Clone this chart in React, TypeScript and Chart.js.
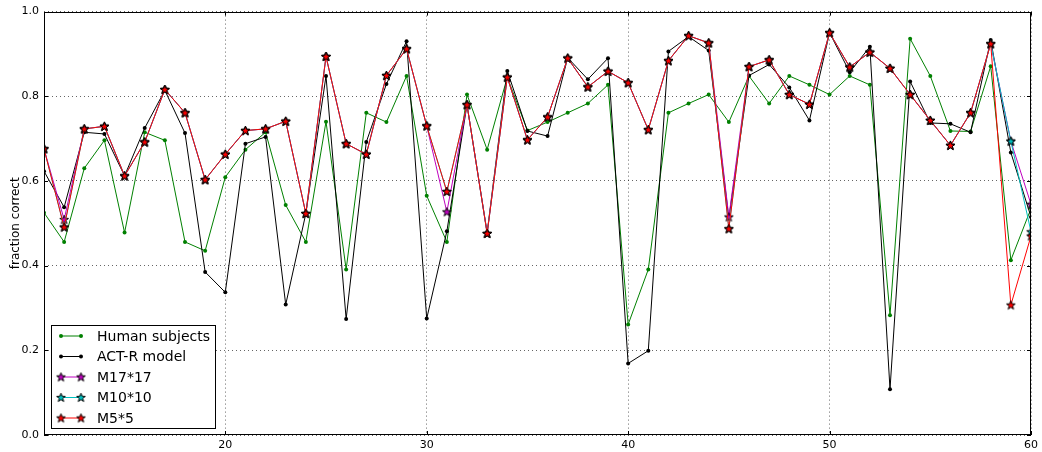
import React, { useEffect, useRef } from 'react';
import { Chart, registerables } from 'chart.js';

Chart.register(...registerables);

const problems = [11, 12, 13, 14, 15, 16, 17, 18, 19, 20, 21, 22, 23, 24, 25, 26, 27, 28, 29, 30, 31, 32, 33, 34, 35, 36, 37, 38, 39, 40, 41, 42, 43, 44, 45, 46, 47, 48, 49, 50, 51, 52, 53, 54, 55, 56, 57, 58, 59, 60];

const humanSubjects = [0.525, 0.456, 0.630, 0.696, 0.478, 0.715, 0.696, 0.456, 0.435, 0.609,
  0.674, 0.715, 0.543, 0.456, 0.740, 0.391, 0.761, 0.739, 0.848, 0.565,
  0.456, 0.804, 0.674, 0.845, 0.719, 0.739, 0.761, 0.783, 0.827, 0.261,
  0.391, 0.761, 0.783, 0.804, 0.739, 0.848, 0.783, 0.848, 0.827, 0.804,
  0.848, 0.827, 0.283, 0.936, 0.848, 0.718, 0.717, 0.871, 0.413, 0.535];

const actrModel = [0.623, 0.538, 0.715, 0.711, 0.612, 0.725, 0.814, 0.713, 0.385, 0.337,
  0.688, 0.704, 0.308, 0.523, 0.848, 0.274, 0.692, 0.829, 0.930, 0.275,
  0.481, 0.780, 0.478, 0.860, 0.718, 0.706, 0.891, 0.840, 0.890, 0.169,
  0.199, 0.906, 0.941, 0.908, 0.511, 0.849, 0.875, 0.821, 0.743, 0.950,
  0.857, 0.917, 0.108, 0.835, 0.737, 0.735, 0.715, 0.933, 0.667, 0.515];

const m17 = [0.676, 0.509, 0.723, 0.729, 0.612, 0.692, 0.816, 0.761, 0.603, 0.663,
  0.719, 0.723, 0.741, 0.523, 0.894, 0.688, 0.663, 0.849, 0.912, 0.730,
  0.527, 0.780, 0.476, 0.845, 0.697, 0.751, 0.890, 0.822, 0.859, 0.832,
  0.721, 0.884, 0.943, 0.926, 0.515, 0.870, 0.886, 0.804, 0.781, 0.950,
  0.869, 0.904, 0.866, 0.804, 0.743, 0.684, 0.761, 0.924, 0.694, 0.545];

const m10 = [0.676, 0.491, 0.723, 0.729, 0.612, 0.692, 0.816, 0.761, 0.603, 0.663,
  0.719, 0.723, 0.741, 0.523, 0.894, 0.688, 0.663, 0.849, 0.912, 0.730,
  0.575, 0.780, 0.476, 0.845, 0.697, 0.751, 0.890, 0.822, 0.859, 0.832,
  0.721, 0.884, 0.943, 0.926, 0.487, 0.870, 0.886, 0.804, 0.781, 0.950,
  0.869, 0.904, 0.866, 0.804, 0.743, 0.684, 0.761, 0.924, 0.694, 0.480];

const m5 = [0.676, 0.491, 0.723, 0.729, 0.612, 0.692, 0.816, 0.761, 0.603, 0.663,
  0.719, 0.723, 0.741, 0.523, 0.894, 0.688, 0.663, 0.849, 0.912, 0.730,
  0.575, 0.780, 0.476, 0.845, 0.697, 0.751, 0.890, 0.822, 0.859, 0.832,
  0.721, 0.884, 0.943, 0.926, 0.487, 0.870, 0.886, 0.804, 0.781, 0.950,
  0.869, 0.904, 0.866, 0.804, 0.743, 0.684, 0.761, 0.924, 0.307, 0.470];

const xTickValues = [20, 30, 40, 50, 60];
const yTickValues = [0, 0.2, 0.4, 0.6, 0.8, 1.0];

const FONT = '"DejaVu Sans", sans-serif';

function makeStar(fill: string): HTMLCanvasElement {
  const c = document.createElement('canvas');
  const s = 11;
  c.width = s;
  c.height = s;
  const ctx = c.getContext('2d')!;
  const cx = s / 2, cy = s / 2 + 0.3, R = 4.6, r = 1.9;
  ctx.beginPath();
  for (let i = 0; i < 10; i++) {
    const rad = i % 2 === 0 ? R : r;
    const a = -Math.PI / 2 + (i * Math.PI) / 5;
    const px = cx + rad * Math.cos(a);
    const py = cy + rad * Math.sin(a);
    if (i === 0) ctx.moveTo(px, py); else ctx.lineTo(px, py);
  }
  ctx.closePath();
  ctx.fillStyle = fill;
  ctx.fill();
  ctx.lineWidth = 1;
  ctx.strokeStyle = '#000';
  ctx.stroke();
  return c;
}

export default function App() {
  const ref = useRef<HTMLCanvasElement>(null);

  useEffect(() => {
    const green = '#008000';
    const black = '#000000';
    const magenta = '#bf00bf';
    const cyan = '#00bfbf';
    const red = '#ff0000';
    const starM = makeStar(magenta);
    const starC = makeStar(cyan);
    const starR = makeStar(red);

    const toPts = (arr: number[]) => problems.map((p, i) => ({ x: p, y: arr[i] }));

    const legendItems = [
      { label: 'Human subjects', color: green, marker: 'dot' as const },
      { label: 'ACT-R model', color: black, marker: 'dot' as const },
      { label: 'M17*17', color: magenta, marker: starM },
      { label: 'M10*10', color: cyan, marker: starC },
      { label: 'M5*5', color: red, marker: starR },
    ];

    const framePlugin = {
      id: 'frame',
      afterDatasetsDraw(chart: any) {
        const { ctx, chartArea: a } = chart;
        const xs = chart.scales.x;
        const ys = chart.scales.y;
        ctx.save();
        ctx.strokeStyle = '#000';
        ctx.lineWidth = 1;
        ctx.strokeRect(Math.round(a.left) + 0.5, Math.round(a.top) + 0.5, Math.round(a.right - a.left) - 1, Math.round(a.bottom - a.top) - 1);
        ctx.beginPath();
        for (const v of xTickValues) {
          const px = Math.round(xs.getPixelForValue(v)) + 0.5;
          ctx.moveTo(px, a.bottom); ctx.lineTo(px, a.bottom - 4);
          ctx.moveTo(px, a.top); ctx.lineTo(px, a.top + 4);
        }
        for (const v of yTickValues) {
          const py = Math.round(ys.getPixelForValue(v)) + 0.5;
          ctx.moveTo(a.left, py); ctx.lineTo(a.left + 4, py);
          ctx.moveTo(a.right, py); ctx.lineTo(a.right - 4, py);
        }
        ctx.stroke();
        ctx.restore();
      },
      afterDraw(chart: any) {
        const { ctx, chartArea: a } = chart;
        const boxL = a.left + 7;
        const boxW = 164;
        const rowH = 20.5;
        const boxH = 103;
        const boxT = a.bottom - 7 - boxH;
        ctx.save();
        ctx.fillStyle = '#fff';
        ctx.fillRect(boxL, boxT, boxW, boxH);
        ctx.strokeStyle = '#000';
        ctx.lineWidth = 1;
        ctx.strokeRect(Math.round(boxL) + 0.5, Math.round(boxT) + 0.5, boxW, boxH);
        ctx.font = `14px ${FONT}`;
        ctx.textBaseline = 'middle';
        legendItems.forEach((it, i) => {
          const y = boxT + 11 + i * rowH;
          const x0 = boxL + 10;
          const x1 = boxL + 30;
          ctx.strokeStyle = it.color;
          ctx.lineWidth = 1;
          ctx.beginPath();
          ctx.moveTo(x0, y);
          ctx.lineTo(x1, y);
          ctx.stroke();
          for (const mx of [x0, x1]) {
            if (it.marker === 'dot') {
              ctx.fillStyle = it.color;
              ctx.beginPath();
              ctx.arc(mx, y, 2, 0, Math.PI * 2);
              ctx.fill();
            } else {
              const img = it.marker as HTMLCanvasElement;
              ctx.drawImage(img, mx - img.width / 2, y - img.height / 2);
            }
          }
          ctx.fillStyle = '#000';
          ctx.fillText(it.label, boxL + 46, y + 1);
        });
        ctx.restore();
      },
    };

    const chart = new Chart(ref.current!, {
      type: 'line',
      data: {
        datasets: [
          { label: 'Human subjects', data: toPts(humanSubjects), borderColor: green, backgroundColor: green, borderWidth: 1, pointRadius: 2, pointBorderWidth: 0, order: 5, clip: 0 } as any,
          { label: 'ACT-R model', data: toPts(actrModel), borderColor: black, backgroundColor: black, borderWidth: 1, pointRadius: 2, pointBorderWidth: 0, order: 4, clip: 0 } as any,
          { label: 'M17*17', data: toPts(m17), borderColor: magenta, backgroundColor: magenta, borderWidth: 1, pointStyle: starM, order: 3, clip: 0 } as any,
          { label: 'M10*10', data: toPts(m10), borderColor: cyan, backgroundColor: cyan, borderWidth: 1, pointStyle: starC, order: 2, clip: 0 } as any,
          { label: 'M5*5', data: toPts(m5), borderColor: red, backgroundColor: red, borderWidth: 1, pointStyle: starR, order: 1, clip: 0 } as any,
        ],
      },
      options: {
        responsive: false,
        animation: false,
        events: [],
        layout: { padding: { left: 0, right: 8, top: 11, bottom: 0 } },
        elements: { line: { tension: 0 } },
        plugins: { legend: { display: false }, tooltip: { enabled: false } },
        scales: {
          x: {
            type: 'linear',
            min: 11,
            max: 60,
            afterBuildTicks: (axis: any) => { axis.ticks = xTickValues.map((v) => ({ value: v })); },
            afterFit: (axis: any) => { axis.height = 17; },
            grid: { color: 'rgba(0,0,0,0.6)', lineWidth: 1, drawTicks: false } as any,
            border: { display: false, dash: [1, 3] },
            ticks: { color: '#000', font: { family: FONT, size: 11 }, padding: 4, maxRotation: 0, callback: (v: any) => String(v) },
          },
          y: {
            type: 'linear',
            min: 0,
            max: 1,
            afterBuildTicks: (axis: any) => { axis.ticks = yTickValues.map((v) => ({ value: v })); },
            afterFit: (axis: any) => { axis.width = 44; },
            grid: { color: 'rgba(0,0,0,0.6)', lineWidth: 1, drawTicks: false } as any,
            border: { display: false, dash: [1, 3] },
            ticks: { color: '#000', font: { family: FONT, size: 11 }, padding: 5, callback: (v: any) => Number(v).toFixed(1) },
            title: { display: true, text: 'fraction correct', color: '#000', font: { family: FONT, size: 12 }, padding: { top: 9, bottom: 0 } },
          },
        },
      },
      plugins: [framePlugin],
    } as any);

    return () => chart.destroy();
  }, []);

  return (
    <div style={{ position: 'absolute', left: 0, top: 0, width: 1042, height: 452, background: '#fff' }}>
      <canvas ref={ref} width={1042} height={452} style={{ display: 'block', width: 1042, height: 452 }} />
    </div>
  );
}
